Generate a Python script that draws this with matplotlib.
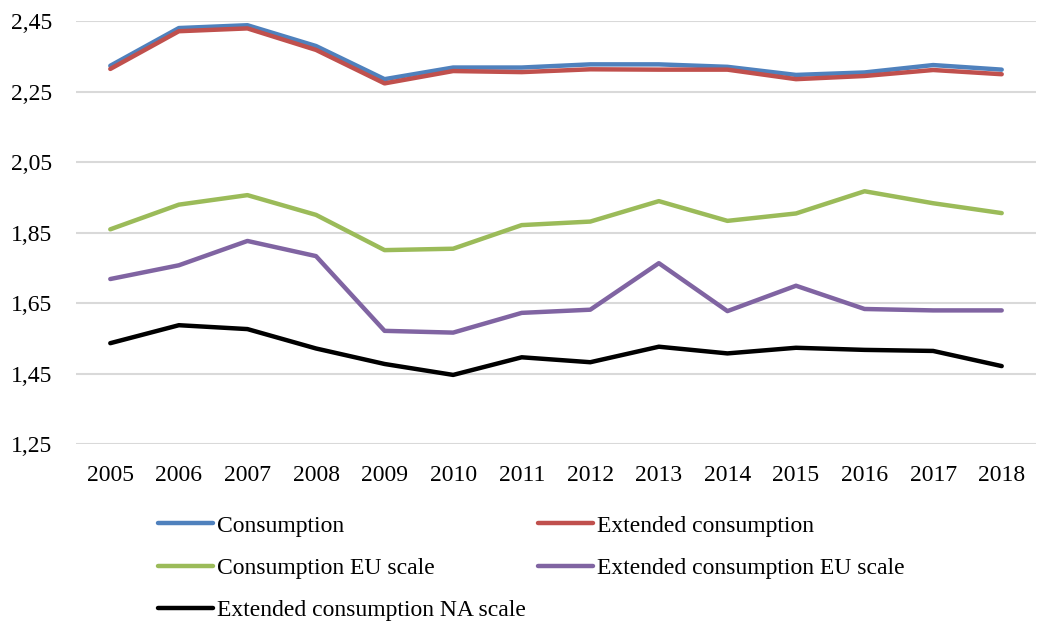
import matplotlib
matplotlib.use("Agg")
import matplotlib.pyplot as plt
from matplotlib.ticker import FuncFormatter

years = [2005, 2006, 2007, 2008, 2009, 2010, 2011, 2012, 2013, 2014, 2015, 2016, 2017, 2018]

consumption = [2.323, 2.430, 2.438, 2.379, 2.285, 2.318, 2.318, 2.327, 2.327, 2.320, 2.297, 2.304, 2.325, 2.312]
extended = [2.314, 2.421, 2.429, 2.368, 2.273, 2.308, 2.305, 2.313, 2.312, 2.312, 2.285, 2.294, 2.311, 2.299]
consumption_eu = [1.859, 1.929, 1.956, 1.900, 1.800, 1.804, 1.871, 1.881, 1.939, 1.883, 1.904, 1.967, 1.933, 1.905]
extended_eu = [1.718, 1.757, 1.826, 1.783, 1.571, 1.566, 1.622, 1.631, 1.763, 1.627, 1.699, 1.633, 1.629, 1.629]
extended_na = [1.536, 1.587, 1.576, 1.521, 1.477, 1.446, 1.496, 1.482, 1.526, 1.507, 1.523, 1.517, 1.514, 1.471]

series = [
    ("Consumption", consumption, "#4F81BD"),
    ("Extended consumption", extended, "#C0504D"),
    ("Consumption EU scale", consumption_eu, "#9BBB59"),
    ("Extended consumption EU scale", extended_eu, "#8064A2"),
    ("Extended consumption NA scale", extended_na, "#000000"),
]

y_ticks = [1.25, 1.45, 1.65, 1.85, 2.05, 2.25, 2.45]

plt.rcParams["font.family"] = ["Liberation Serif", "DejaVu Serif"]
plt.rcParams["font.size"] = 17

W, H = 1037, 624
fig = plt.figure(figsize=(W / 100, H / 100), dpi=100)
ax = fig.add_axes([76 / W, (H - 444) / H, 960 / W, 423 / H])

x = list(range(len(years)))
lines = {}
for label, values, color in series:
    (ln,) = ax.plot(x, values, color=color, lw=3.2, solid_joinstyle="round",
                    solid_capstyle="round", label=label, zorder=3)
    lines[label] = ln

ax.set_xlim(-0.5, len(years) - 0.5)
ax.set_ylim(1.25, 2.45)
ax.set_yticks(y_ticks)
ax.yaxis.set_major_formatter(FuncFormatter(lambda v, _: f"{v:.2f}".replace(".", ",")))
ax.set_xticks(x)
ax.set_xticklabels([str(y) for y in years])
ax.grid(axis="y", color="#D9D9D9", lw=1.5, zorder=0)
for s in ax.spines.values():
    s.set_visible(False)
ax.tick_params(axis="both", length=0)
ax.tick_params(axis="y", pad=17)
ax.tick_params(axis="x", pad=15)

# legend filled row by row: left column gets 1st, 3rd, 5th entries
order = ["Consumption", "Consumption EU scale", "Extended consumption NA scale",
         "Extended consumption", "Extended consumption EU scale"]
fig.legend([lines[k] for k in order], order, ncol=2, frameon=False,
           loc="upper left", bbox_to_anchor=(158 / W, (H - 515) / H),
           borderpad=0, borderaxespad=0, handlelength=2.33, handletextpad=0.17,
           labelspacing=0.88, columnspacing=0.5)

fig.savefig("out.png", dpi=100)
